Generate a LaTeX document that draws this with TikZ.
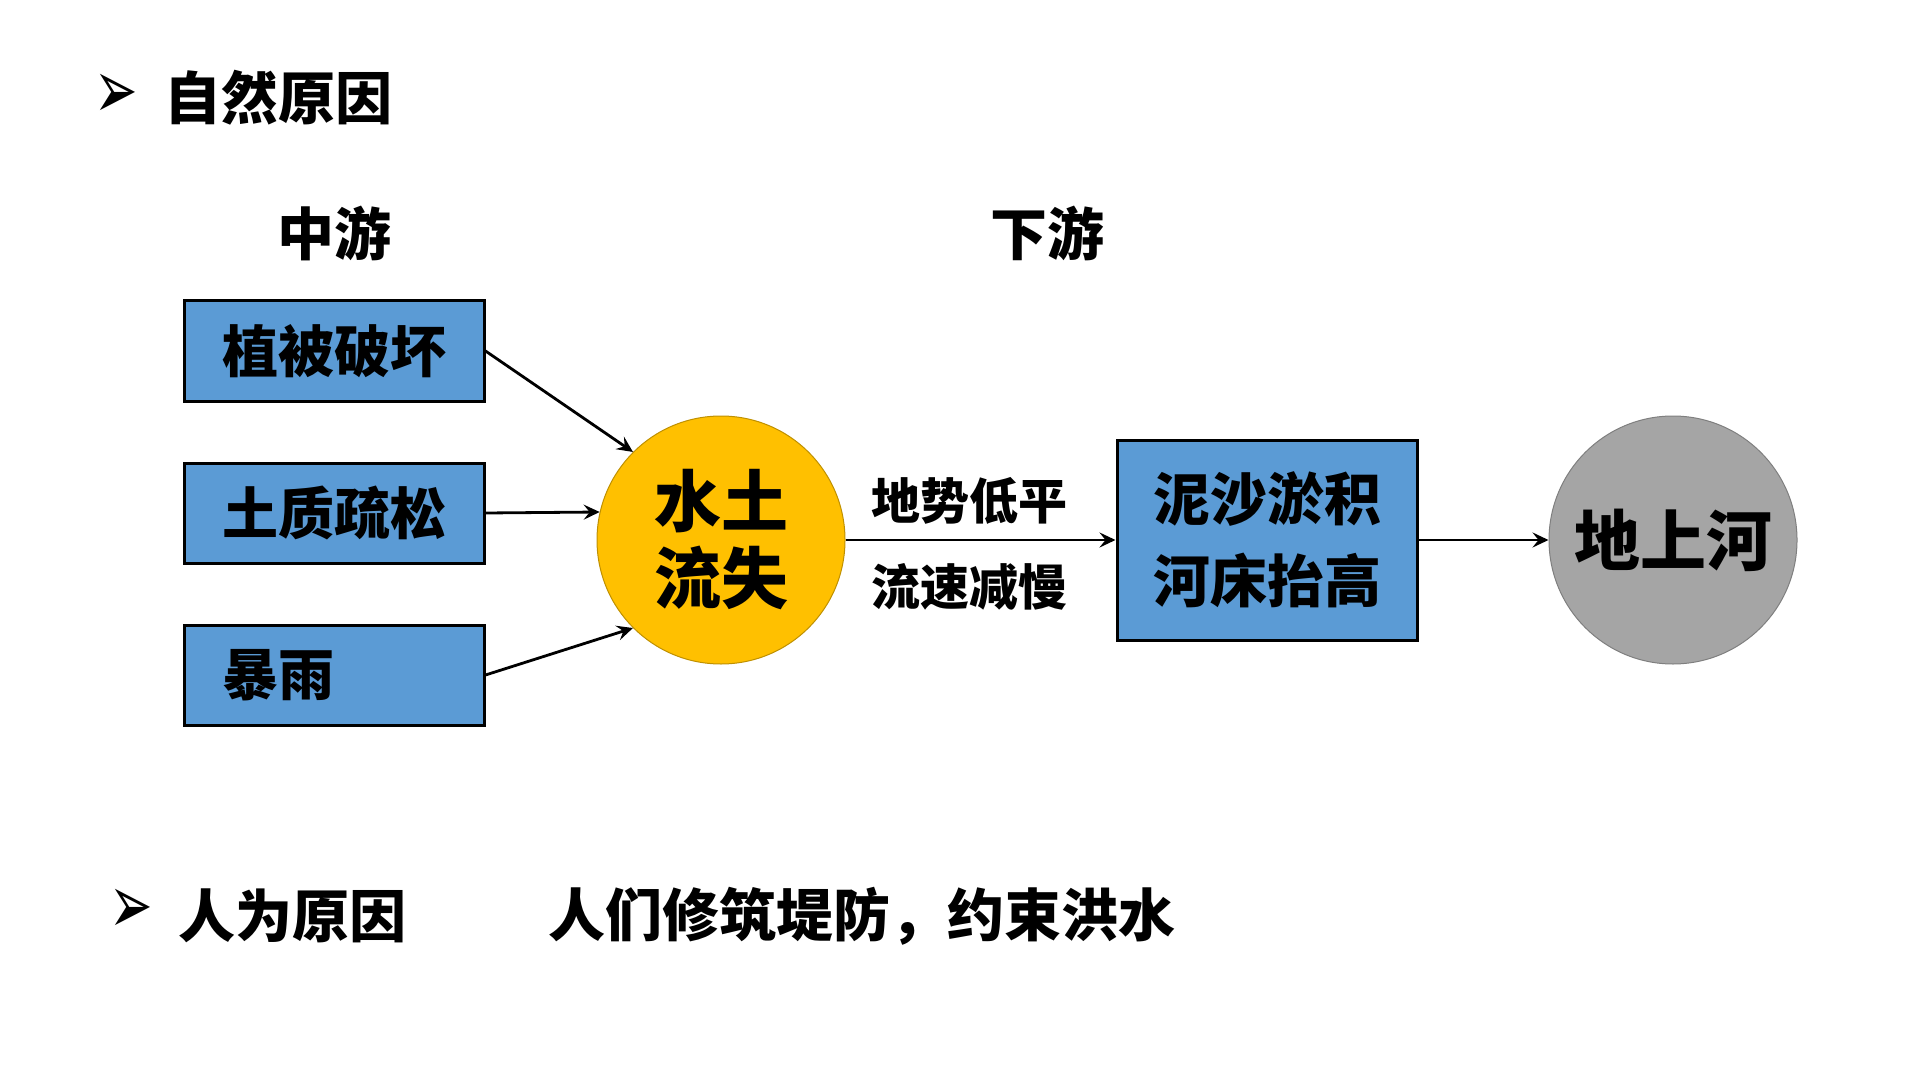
\documentclass[tikz,border=0pt]{standalone}
\usepackage{fontspec}
\setmainfont{Noto Sans CJK SC}
\newfontfamily\symfont{DejaVu Sans}
\usetikzlibrary{arrows.meta,positioning,shapes}
\definecolor{boxblue}{HTML}{5B9BD5}
\definecolor{sunyellow}{HTML}{FFC000}
\definecolor{sunedge}{HTML}{BF9000}
\definecolor{rivergray}{HTML}{A5A5A5}
\definecolor{riveredge}{HTML}{7F7F7F}
\newcommand{\pointer}{\scalebox{1}[1.6]{➢}}
\begin{document}
\begin{tikzpicture}[
  x=0.5pt, y=-0.5pt,
  every node/.style={font=\bfseries, inner sep=0pt},
  heading/.style={font=\fontsize{28.5}{34}\bfseries},
  bullet/.style={font=\symfont\fontsize{26}{30}\selectfont},
  causebox/.style={draw, line width=1.5pt, fill=boxblue, minimum width=150pt,
    minimum height=50pt, text width=112pt, inner xsep=19pt, align=left,
    font=\fontsize{28}{34}\bfseries},
  flow/.style={-{Stealth[length=8pt, width=7.5pt, inset=3pt]}, line width=1.4pt}
]
\useasboundingbox (0,0) rectangle (1920,1080);

\node[bullet] (mark1) at (116,96) {\pointer};
\node[heading] (natural) at (278,98) {自然原因};
\node[heading] (middle) at (334,233) {中游};
\node[heading] (lower) at (1047,233) {下游};

\node[causebox] (veg) at (334,351) {植被破坏};
\node[causebox] (soil) at (334,513) {土质疏松};
\node[causebox] (rain) at (334,675) {暴雨};

\node[circle, draw=sunedge, line width=0.5pt, fill=sunyellow, minimum size=124pt,
  align=center, font=\fontsize{33.5}{38.5}\bfseries] (loss) at (721,540) {水土\\流失};

\node[font=\fontsize{24.5}{30}\bfseries] (slope) at (969,501) {地势低平};
\node[font=\fontsize{24.5}{30}\bfseries] (slow) at (969,587) {流速减慢};

\node[draw, line width=1.5pt, fill=boxblue, minimum width=150pt, minimum height=100pt,
  align=center, font=\fontsize{28.5}{41}\bfseries] (silt) at (1267,540) {泥沙淤积\\河床抬高};

\node[circle, draw=riveredge, line width=0.5pt, fill=rivergray, minimum size=124pt,
  font=\fontsize{33}{38}\bfseries] (river) at (1673,540) {地上河};

\draw[flow] (veg.east) -- (loss.135);
\draw[flow] (soil.east) -- (loss.167);
\draw[flow] (rain.east) -- (loss.225);
\draw[flow] (loss.east) -- (silt.west);
\draw[flow] (silt.east) -- (river.west);

\node[bullet] (mark2) at (131,911) {\pointer};
\node[heading] (human) at (292,916) {人为原因};
\node[heading] (dikes) at (862,916) {人们修筑堤防，约束洪水};
\end{tikzpicture}
\end{document}
